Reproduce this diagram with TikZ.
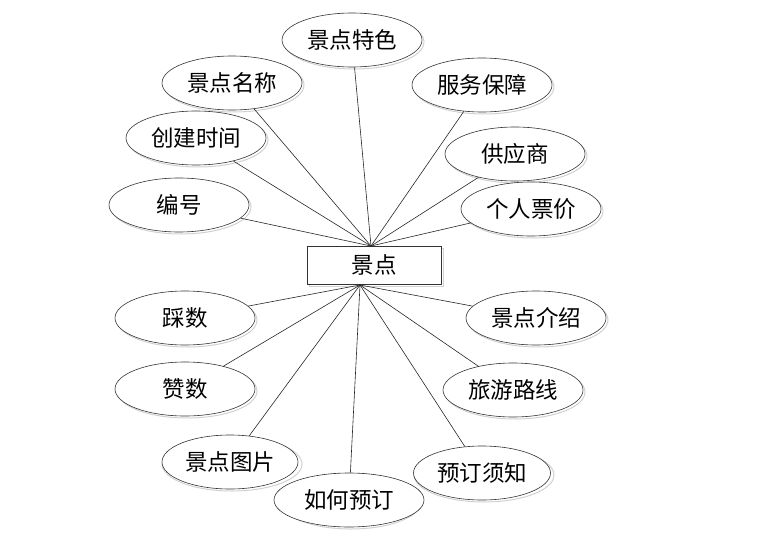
\documentclass[tikz,border=0pt]{standalone}
\usepackage{fontspec}
\setmainfont{Noto Sans CJK SC}
\usetikzlibrary{shapes.geometric}
\tikzset{
  attr/.style={ellipse, draw=black!80, line width=0.6pt, minimum width=140pt, minimum height=54pt, inner sep=0pt, font=\fontsize{22.5}{22.5}\selectfont, fill=white},
  ent/.style={rectangle, draw=black!80, line width=0.6pt, minimum width=134pt, minimum height=38pt, inner sep=0pt, font=\fontsize{22.5}{22.5}\selectfont, fill=white},
  link/.style={draw=black!85, line width=0.6pt},
  shadowe/.style={ellipse, draw=black!18, line width=1pt, minimum width=140pt, minimum height=54pt, inner sep=0pt},
}
\begin{document}
\begin{tikzpicture}[x=1pt,y=-1pt]
\useasboundingbox (0,0) rectangle (784,546);
% shadows
\foreach \x/\y in {352/40,232/83,482/85,196/138,515/154,179/205,531/209,185/318,536/318,185/389,513/390,230/462,482/473,349/500}{
  \node[shadowe] at (\x+2,\y+2) {};
}
\draw[draw=black!18, line width=1pt] (309,248) rectangle (443,286);
% entity
\node[ent] (e) at (374,265) {景点};
\coordinate (top) at (371,246);
\coordinate (bot) at (360,285);
% attributes
\node[attr] (a1) at (352,40) {景点特色};
\node[attr] (a2) at (232,83) {景点名称};
\node[attr] (a3) at (482,85) {服务保障};
\node[attr] (a4) at (196,138) {创建时间};
\node[attr] (a5) at (515,154) {供应商};
\node[attr] (a6) at (179,205) {编号};
\node[attr] (a7) at (531,209) {个人票价};
\node[attr] (b1) at (185,318) {踩数};
\node[attr] (b2) at (536,318) {景点介绍};
\node[attr] (b3) at (185,389) {赞数};
\node[attr] (b4) at (513,390) {旅游路线};
\node[attr, minimum width=136pt] (b5) at (230,462) {景点图片};
\node[attr, minimum width=137pt] (b6) at (482,473) {预订须知};
\node[attr, minimum width=150pt] (b7) at (349,500) {如何预订};
% connectors
\foreach \n in {a1,a2,a3,a4,a5,a6,a7}{
  \draw[link] (\n) -- (top);
}
\foreach \n in {b1,b2,b3,b4,b5,b6,b7}{
  \draw[link] (\n) -- (bot);
}
\end{tikzpicture}
\end{document}
